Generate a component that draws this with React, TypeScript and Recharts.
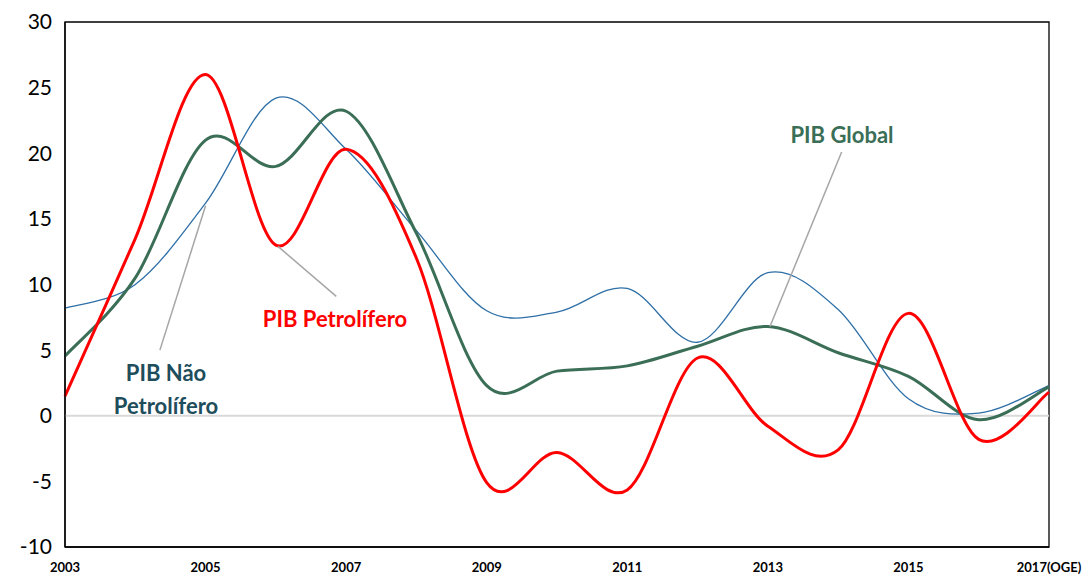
import React from 'react';
import { LineChart, Line, XAxis, YAxis, ReferenceLine, ReferenceArea } from 'recharts';

const years = [2003, 2004, 2005, 2006, 2007, 2008, 2009, 2010, 2011, 2012, 2013, 2014, 2015, 2016, 2017];
const pibPetrolifero = [1.5, 13.5, 26.0, 13.0, 20.3, 12.0, -5.1, -2.8, -5.65, 4.4, -0.8, -2.6, 7.8, -1.8, 1.8];
const pibNaoPetrolifero = [8.2, 10.0, 16.2, 24.2, 20.3, 14.1, 8.0, 7.9, 9.7, 5.6, 10.9, 8.1, 1.3, 0.2, 2.3];
const pibGlobal = [4.55, 10.5, 21.0, 19.0, 23.2, 13.9, 2.3, 3.4, 3.8, 5.3, 6.8, 4.8, 3.0, -0.3, 2.2];
const xTicks = [2003, 2005, 2007, 2009, 2011, 2013, 2015, 2017];
const xTickLabels: Record<number, string> = { 2017: '2017(OGE)' };
const yTicks = [-10, -5, 0, 5, 10, 15, 20, 25, 30];

const data = years.map((y, i) => ({
  year: y,
  petro: pibPetrolifero[i],
  naoPetro: pibNaoPetrolifero[i],
  global: pibGlobal[i],
}));

// Excel-like smoothing (Catmull-Rom through points)
function excelCurve(context: any) {
  let pts: number[][] = [];
  return {
    areaStart() {},
    areaEnd() {},
    lineStart() { pts = []; },
    lineEnd() {
      if (!pts.length) return;
      context.moveTo(pts[0][0], pts[0][1]);
      for (let i = 0; i < pts.length - 1; i++) {
        const p0 = pts[i - 1] || pts[i];
        const p1 = pts[i];
        const p2 = pts[i + 1];
        const p3 = pts[i + 2] || p2;
        const c1x = p1[0] + (p2[0] - p0[0]) / 6;
        const c1y = p1[1] + (p2[1] - p0[1]) / 6;
        const c2x = p2[0] - (p3[0] - p1[0]) / 6;
        const c2y = p2[1] - (p3[1] - p1[1]) / 6;
        context.bezierCurveTo(c1x, c1y, c2x, c2y, p2[0], p2[1]);
      }
    },
    point(x: number, y: number) { pts.push([+x, +y]); },
  };
}

const leaderGray = '#a6a6a6';

export default function App() {
  return (
    <div style={{ position: 'absolute', left: 0, top: 0, width: 1087, height: 574, background: '#fff' }}>
      <LineChart width={1087} height={574} data={data} margin={{ top: 22, right: 38, bottom: 0, left: 0 }}>
        <XAxis
          dataKey="year"
          type="number"
          domain={[2003, 2017]}
          ticks={xTicks}
          tickFormatter={(v: number) => xTickLabels[v] || String(v)}
          axisLine={{ stroke: '#000', strokeWidth: 1.3 }}
          tickLine={false}
          tickMargin={10}
          height={27}
          interval={0}
          tick={{ fontFamily: 'Lato', fontWeight: 700, fontSize: 13, fill: '#000' }}
        />
        <YAxis
          type="number"
          domain={[-10, 30]}
          ticks={yTicks}
          width={65}
          axisLine={{ stroke: '#000', strokeWidth: 1.3 }}
          tickLine={false}
          tickSize={0}
          tickMargin={13}
          interval={0}
          tick={{ fontFamily: 'Lato', fontSize: 21, fill: '#000' }}
        />
        <ReferenceArea x1={2003} x2={2017} y1={-10} y2={30} fill="none" stroke="#000" strokeWidth={1.3} ifOverflow="visible" />
        <ReferenceLine y={0} stroke="#d9d9d9" strokeWidth={2} />
        <Line dataKey="naoPetro" type={excelCurve as any} stroke="#2e6fa7" strokeWidth={1.3} dot={false} isAnimationActive={false} />
        <Line dataKey="global" type={excelCurve as any} stroke="#3b6e56" strokeWidth={3} dot={false} isAnimationActive={false} />
        <Line dataKey="petro" type={excelCurve as any} stroke="#ff0000" strokeWidth={3} dot={false} isAnimationActive={false} />
        <ReferenceLine segment={[{ x: 2013.03, y: 6.8 }, { x: 2014.05, y: 20.1 }]} stroke={leaderGray} strokeWidth={1.5} />
        <ReferenceLine segment={[{ x: 2006.03, y: 12.9 }, { x: 2006.86, y: 9.1 }]} stroke={leaderGray} strokeWidth={1.5} />
        <ReferenceLine segment={[{ x: 2005.0, y: 16.0 }, { x: 2004.35, y: 5.0 }]} stroke={leaderGray} strokeWidth={1.5} />
      </LineChart>
      <svg width={1087} height={574} style={{ position: 'absolute', left: 0, top: 0, pointerEvents: 'none' }}>
        <text x={842} y={143} textAnchor="middle" fontFamily="Lato" fontWeight={700} fontSize={22} fill="#3b6e56">PIB Global</text>
        <text x={335} y={327} textAnchor="middle" fontFamily="Lato" fontWeight={700} fontSize={22} fill="#ff0000">PIB Petrolífero</text>
        <text x={166} y={381} textAnchor="middle" fontFamily="Lato" fontWeight={700} fontSize={22} fill="#1e4d5c">PIB Não</text>
        <text x={166} y={414} textAnchor="middle" fontFamily="Lato" fontWeight={700} fontSize={22} fill="#1e4d5c">Petrolífero</text>
      </svg>
    </div>
  );
}
